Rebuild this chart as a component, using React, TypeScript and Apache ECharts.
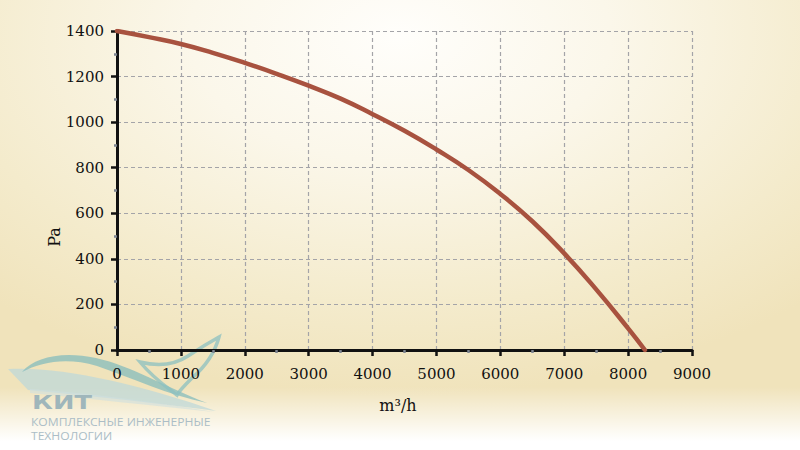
import React, { useEffect, useRef } from "react";
import * as echarts from "echarts";

const flowValues = [0, 500, 1000, 1500, 2000, 2500, 3000, 3500, 4000, 4500, 5000, 5500, 6000, 6500, 7000, 7500, 8000, 8263];
const pressureValues = [1400, 1373, 1343, 1304, 1260, 1212, 1160, 1103, 1035, 962, 880, 790, 685, 565, 424, 266, 95, 0];
const xTitle = "m³/h";
const yTitle = "Pa";
const logoTitle = "КИТ";
const logoLines = ["КОМПЛЕКСНЫЕ ИНЖЕНЕРНЫЕ", "ТЕХНОЛОГИИ"];

const swooshTop = "M 22 372 C 35 357 62 351 96 358 C 132 366 165 387 207 403 C 168 395 132 378 97 366 C 66 357 42 362 22 372 Z";
const swooshBand = "M 8 369 C 60 366 140 384 216 411 C 150 402 80 395 28 390 Z";
const swooshLow = "M 30 389 C 90 393 150 401 214 412 C 150 405 90 399 30 393 Z";
const birdShape = "M 140 362 C 160 367 176 364 188 356 C 200 348 210 342 219 337 C 215 352 206 366 192 378 C 184 386 179 391 177 395 C 168 388 154 379 140 362 Z";

echarts.graphic.registerShape("kitSwooshTop", echarts.graphic.extendPath(swooshTop, {}) as any);
echarts.graphic.registerShape("kitSwooshBand", echarts.graphic.extendPath(swooshBand, {}) as any);
echarts.graphic.registerShape("kitSwooshLow", echarts.graphic.extendPath(swooshLow, {}) as any);
echarts.graphic.registerShape("kitBird", echarts.graphic.extendPath(birdShape, {}) as any);

const serif = "'DejaVu Serif', serif";

export default function App() {
  const ref = useRef<HTMLDivElement>(null);
  useEffect(() => {
    if (!ref.current) return;
    const chart = echarts.init(ref.current, undefined, { renderer: "svg" });
    const data = flowValues.map((x, i) => [x, pressureValues[i]]);
    const axisCommon = {
      type: "value" as const,
      axisLine: { show: true, onZero: false, lineStyle: { color: "#111", width: 3 } },
      axisTick: { show: true, inside: false, length: 6, lineStyle: { color: "#111", width: 2.5 } },
      minorTick: { show: true, splitNumber: 2, length: 3, lineStyle: { color: "#7d8490", width: 2.5 } },
      splitLine: { show: true, lineStyle: { color: "#a4a4a8", type: [4, 3] as any, width: 1.2 } },
      axisLabel: {
        fontFamily: serif,
        fontSize: 15,
        color: "#111",
        formatter: (v: number) => String(v),
      },
    };
    chart.setOption({
      animation: false,
      backgroundColor: "transparent",
      grid: { left: 117, right: 108, top: 31, bottom: 100, containLabel: false },
      xAxis: {
        ...axisCommon,
        min: 0,
        max: 9000,
        interval: 1000,
        axisLabel: { ...axisCommon.axisLabel, margin: 16 },
      },
      yAxis: {
        ...axisCommon,
        min: 0,
        max: 1400,
        interval: 200,
        axisLabel: { ...axisCommon.axisLabel, margin: 13 },
      },
      series: [
        {
          type: "line",
          data,
          smooth: 0.5,
          showSymbol: false,
          symbol: "none",
          lineStyle: { color: "#a8523f", width: 4.5, cap: "round" },
          z: 3,
        },
      ],
      graphic: [
        {
          type: "text",
          x: 398,
          y: 405,
          style: {
            text: xTitle,
            fill: "#111",
            font: `16px ${serif}`,
            align: "center",
            verticalAlign: "middle",
          },
        },
        {
          type: "text",
          x: 54,
          y: 237,
          rotation: Math.PI / 2,
          style: {
            text: yTitle,
            fill: "#111",
            font: `16px ${serif}`,
            align: "center",
            verticalAlign: "middle",
          },
        },
        {
          type: "group",
          z: -1,
          silent: true,
          children: [
            { type: "kitSwooshBand", style: { fill: "#bfd8d8", opacity: 0.75 } },
            { type: "kitSwooshLow", style: { fill: "#cfe0df", opacity: 0.6 } },
            { type: "kitSwooshTop", style: { fill: "#86bcbc", opacity: 0.75 } },
            { type: "kitBird", style: { fill: "none", stroke: "#8cc0c0", lineWidth: 3.5, opacity: 0.75 } },
            {
              type: "text",
              x: 32,
              y: 393,
              scaleX: 1.35,
              style: { text: logoTitle, fill: "#9fb6bb", font: "900 19px 'DejaVu Sans', sans-serif" },
            },
            {
              type: "text",
              x: 31,
              y: 416,
              scaleX: 1.1,
              style: { text: logoLines[0], fill: "#abbdc6", font: "11px 'Open Sans', sans-serif" },
            },
            {
              type: "text",
              x: 31,
              y: 430,
              scaleX: 1.1,
              style: { text: logoLines[1], fill: "#abbdc6", font: "11px 'Open Sans', sans-serif" },
            },
          ],
        },
      ],
    });
    return () => chart.dispose();
  }, []);
  return (
    <div
      style={{
        position: "absolute",
        left: 0,
        top: 0,
        width: 800,
        height: 450,
        background:
          "linear-gradient(to bottom, rgba(255,255,255,0) 86%, #ffffff 98%), radial-gradient(ellipse 75% 80% at 50% 8%, #fffefb 0%, #fbf7ea 35%, #f4ebcc 75%, #f0e3bb 100%)",
      }}
    >
      <div ref={ref} style={{ width: 800, height: 450 }} />
    </div>
  );
}
